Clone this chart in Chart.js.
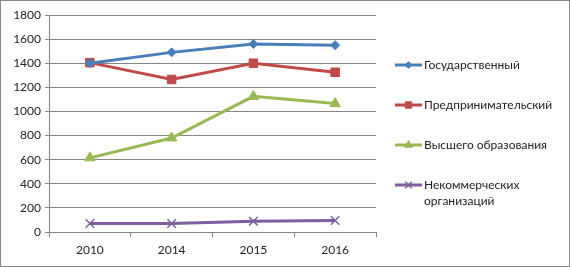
<!DOCTYPE html>
<html><head><meta charset="utf-8">
<script src="https://cdn.jsdelivr.net/npm/chart.js@4/dist/chart.umd.min.js"></script>
<style>
html,body{margin:0;padding:0;background:#fff;}
#wrap{position:relative;width:570px;height:267px;box-sizing:border-box;border:1px solid #888;}
canvas{display:block;}
</style></head>
<body><div id="wrap"><canvas id="c" width="568" height="265"></canvas></div>
<script>
const categories = ['2010','2014','2015','2016'];
const seriesNames = ['Государственный','Предпринимательский','Высшего образования',['Некоммерческих','организаций']];
const gov = [1400, 1490, 1560, 1550];
const biz = [1405, 1265, 1400, 1325];
const higher = [615, 780, 1125, 1065];
const nonprofit = [70, 70, 90, 95];
const yTicks = [0,200,400,600,800,1000,1200,1400,1600,1800];

const colors = ['#4A7EBB','#BE4B48','#98B954','#7D5FA0'];
const styles = ['rectRot','rect','triangle','crossRot'];
const radii = [4.5,6,6,6];
const values = [gov, biz, higher, nonprofit];
const FONT = 'Lato, "Liberation Sans", sans-serif';

const legendPlugin = {
  id: 'sideLegend',
  afterDraw(chart) {
    const ctx = chart.ctx;
    const ys = [64, 104, 144, 184];
    ctx.save();
    chart.data.datasets.forEach((ds, i) => {
      const y = ys[i];
      ctx.strokeStyle = ds.borderColor;
      ctx.lineWidth = 3;
      ctx.beginPath(); ctx.moveTo(394, y); ctx.lineTo(421, y); ctx.stroke();
      ctx.fillStyle = ds.pointBackgroundColor;
      ctx.strokeStyle = ds.pointBorderColor;
      ctx.lineWidth = ds.pointStyle === 'crossRot' ? 1.5 : 1;
      Chart.helpers.drawPoint(ctx, {pointStyle: ds.pointStyle, radius: ds.pointRadius*0.75, borderWidth: ctx.lineWidth, rotation: 0}, 407.5, y);
      ctx.fillStyle = '#222';
      ctx.font = '12px ' + FONT;
      ctx.textBaseline = 'middle';
      const lab = seriesNames[i];
      const lines = Array.isArray(lab) ? lab : [lab];
      lines.forEach((t, k) => ctx.fillText(t, 423, y + k*16));
    });
    ctx.restore();
  }
};

new Chart(document.getElementById('c'), {
  type: 'line',
  data: {
    labels: categories,
    datasets: values.map((v, i) => ({
      label: Array.isArray(seriesNames[i]) ? seriesNames[i].join(' ') : seriesNames[i],
      data: v,
      borderColor: colors[i],
      backgroundColor: colors[i],
      pointBackgroundColor: colors[i],
      pointBorderColor: colors[i],
      pointStyle: styles[i],
      pointRadius: radii[i],
      pointBorderWidth: styles[i] === 'crossRot' ? 1.5 : 1,
      borderWidth: 3,
      tension: 0,
      fill: false
    }))
  },
  options: {
    responsive: false,
    animation: false,
    layout: { padding: { left: 0, top: 14, right: 193, bottom: 0 } },
    plugins: { legend: { display: false }, tooltip: { enabled: false } },
    scales: {
      x: {
        offset: true,
        grid: { offset: true, drawOnChartArea: false, drawTicks: true, tickLength: 5, color: '#868686' },
        border: { color: '#868686', width: 1 },
        ticks: { font: { family: FONT, size: 12 }, color: '#222', padding: 6 },
        afterFit(s) { s.height = 34; }
      },
      y: {
        min: 0, max: 1800,
        afterBuildTicks(s) { s.ticks = yTicks.map(v => ({ value: v })); },
        grid: { color: '#868686', tickLength: 4 },
        border: { color: '#868686', width: 1 },
        ticks: { font: { family: FONT, size: 12 }, color: '#222', padding: 4, callback: (v) => String(v) },
        afterFit(s) { s.width = 48; }
      }
    }
  },
  plugins: [legendPlugin]
});
</script>
</body></html>
